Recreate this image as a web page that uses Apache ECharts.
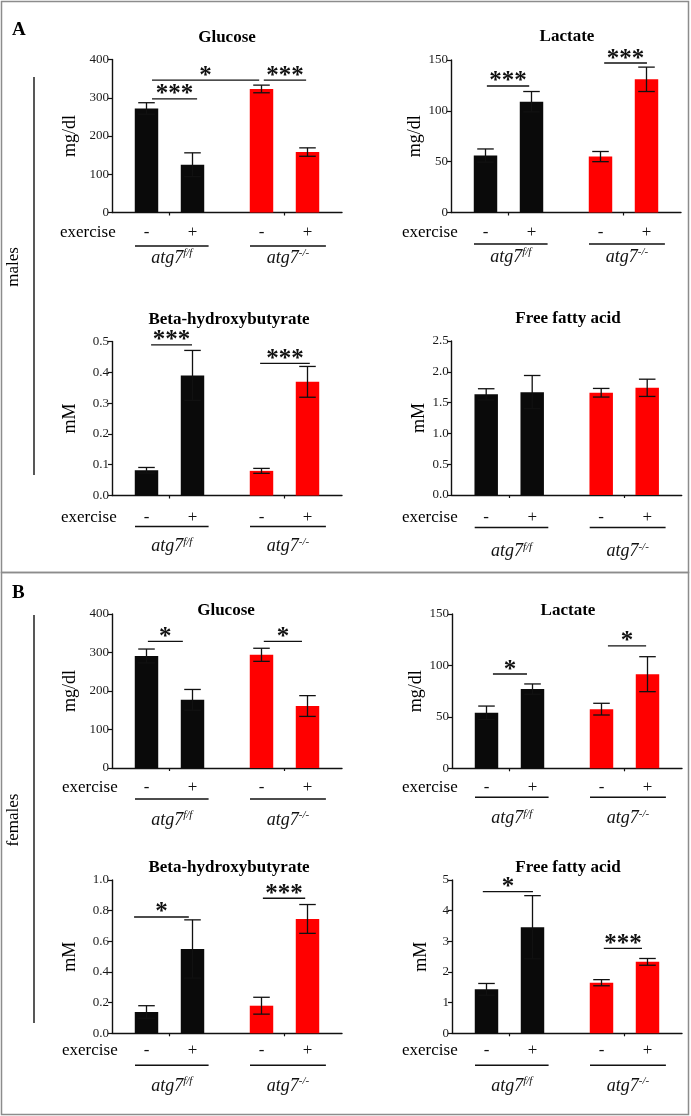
<!DOCTYPE html>
<html><head><meta charset="utf-8">
<script src="https://cdn.jsdelivr.net/npm/echarts@6/dist/echarts.min.js"></script>
<style>html,body{margin:0;padding:0;background:#fff}#c{width:691px;height:1116px}</style>
</head><body><div id="c"></div>
<script>
// ---------------- data ----------------
const barX = [0.75, 1.75, 3.25, 4.25];
const exerciseTicks = ['-', '+', '-', '+'];
const groupCenters = [1.25, 3.75];
const groupSpans = [[0.5, 2.1], [3.0, 4.65]];
const genotypeBase = 'atg7';
const genotypeSup = ['f/f', '-/-'];

const panelTitles = ['Glucose', 'Lactate', 'Beta-hydroxybutyrate', 'Free fatty acid',
                     'Glucose', 'Lactate', 'Beta-hydroxybutyrate', 'Free fatty acid'];
const panelUnits = ['mg/dl', 'mg/dl', 'mM', 'mM', 'mg/dl', 'mg/dl', 'mM', 'mM'];
const yMax = [400, 150, 0.5, 2.5, 400, 150, 1.0, 5];
const yStep = [100, 50, 0.1, 0.5, 100, 50, 0.2, 1];
const yDecimals = [0, 0, 1, 1, 0, 0, 1, 0];

// males (A)
const mGluMean = [272, 125, 323, 158];      const mGluErr = [15, 31, 10, 11];
const mLacMean = [56, 109, 55, 131];        const mLacErr = [6.5, 10, 5, 12];
const mBhbMean = [0.082, 0.39, 0.08, 0.369]; const mBhbErr = [0.009, 0.081, 0.008, 0.05];
const mFfaMean = [1.635, 1.67, 1.66, 1.74]; const mFfaErr = [0.09, 0.27, 0.07, 0.14];
// females (B)
const fGluMean = [291, 177, 294, 161];       const fGluErr = [18, 27, 17, 27];
const fLacMean = [54, 77, 57.5, 91.5];      const fLacErr = [6.5, 5, 5.7, 17];
const fBhbMean = [0.139, 0.55, 0.18, 0.746]; const fBhbErr = [0.041, 0.19, 0.055, 0.094];
const fFfaMean = [1.435, 3.46, 1.65, 2.33]; const fFfaErr = [0.19, 1.03, 0.1, 0.11];

// significance brackets [x1, x2, y]
const mGluSig = [[0.87, 1.85, 297], [0.87, 3.2, 346], [3.3, 4.22, 346]];
const mGluSigLabel = ['***', '*', '***'];
const mLacSig = [[0.78, 1.7, 124.4], [3.33, 4.26, 147]];
const mLacSigLabel = ['***', '***'];
const mBhbSig = [[0.85, 1.74, 0.489], [3.22, 4.3, 0.429]];
const mBhbSigLabel = ['***', '***'];
const mFfaSig = [];
const mFfaSigLabel = [];
const fGluSig = [[0.78, 1.54, 329], [3.3, 4.13, 329]];
const fGluSigLabel = ['*', '*'];
const fLacSig = [[0.89, 1.63, 91.6], [3.39, 4.22, 119]];
const fLacSigLabel = ['*', '*'];
const fBhbSig = [[0.48, 1.67, 0.759], [3.28, 4.2, 0.881]];
const fBhbSigLabel = ['*', '***'];
const fFfaSig = [[0.67, 1.76, 4.62], [3.3, 4.13, 2.77]];
const fFfaSigLabel = ['*', '***'];

const means = [mGluMean, mLacMean, mBhbMean, mFfaMean, fGluMean, fLacMean, fBhbMean, fFfaMean];
const errs = [mGluErr, mLacErr, mBhbErr, mFfaErr, fGluErr, fLacErr, fBhbErr, fFfaErr];
const sigs = [mGluSig, mLacSig, mBhbSig, mFfaSig, fGluSig, fLacSig, fBhbSig, fFfaSig];
const sigLabels = [mGluSigLabel, mLacSigLabel, mBhbSigLabel, mFfaSigLabel,
                   fGluSigLabel, fLacSigLabel, fBhbSigLabel, fFfaSigLabel];

// ---------------- layout ----------------
const SERIF = '"Liberation Serif", "Times New Roman", serif';
const layout = [
  {left:112,   top:59.5, h:153,   tx:227, ty:38,  gap:33, ex:[60,233],   lab:20.5, line:33.5, geno:45.5},
  {left:451,   top:60,   h:152.5, tx:567, ty:37,  gap:25, ex:[402,233],  lab:20.5, line:31.5, geno:44.5},
  {left:112,   top:341.5,h:154,   tx:229, ty:320, gap:33, ex:[61,518],   lab:22.5, line:31,   geno:51},
  {left:451.7, top:341,  h:154,   tx:568, ty:319, gap:22, ex:[402,518],  lab:23,   line:32.5, geno:56.5},
  {left:112,   top:614,  h:154,   tx:226, ty:611, gap:33, ex:[62,788],   lab:20,   line:31,   geno:52},
  {left:452,   top:614,  h:154.3, tx:568, ty:611, gap:26, ex:[402,788],  lab:19.5, line:29,   geno:50},
  {left:112,   top:880,  h:153.3, tx:229, ty:868, gap:33, ex:[62,1051],  lab:17.5, line:32,   geno:52.7},
  {left:452,   top:880,  h:153.3, tx:568, ty:868, gap:22, ex:[402,1051], lab:17.5, line:32,   geno:52.7}
];
const BAR_W = 0.51, CAP_W = 0.36;

const grid = [], xAxis = [], yAxis = [], series = [], graphic = [];

layout.forEach((L, i) => {
  grid.push({left: L.left, top: L.top, width: 230, height: L.h});
  xAxis.push({
    type: 'value', gridIndex: i, min: 0, max: 5,
    splitLine: {show: false},
    axisLine: {show: true, onZero: false, lineStyle: {color: '#111', width: 1.4}},
    axisTick: {show: true, customValues: groupCenters, length: 3, lineStyle: {color: '#111', width: 1.2}},
    axisLabel: {
      show: true, customValues: barX, margin: L.lab, verticalAlign: 'middle',
      fontFamily: SERIF, fontSize: 17, color: '#111',
      formatter: v => exerciseTicks[barX.indexOf(v)] || ''
    }
  });
  yAxis.push({
    type: 'value', gridIndex: i, min: 0, max: yMax[i], interval: yStep[i],
    name: panelUnits[i], nameLocation: 'middle', nameRotate: 90, nameGap: L.gap,
    nameTextStyle: {fontFamily: SERIF, fontSize: 18, color: '#000'},
    splitLine: {show: false},
    axisLine: {show: true, lineStyle: {color: '#111', width: 1.4}},
    axisTick: {show: true, inside: false, length: 4, lineStyle: {color: '#111', width: 1.2}},
    axisLabel: {
      margin: 3, fontFamily: SERIF, fontSize: 13, color: '#1a1a1a',
      formatter: v => (+v).toFixed(yDecimals[i])
    }
  });

  // bars
  series.push({
    type: 'custom', xAxisIndex: i, yAxisIndex: i, clip: false, z: 2,
    data: barX.map((x, k) => [x, means[i][k]]),
    renderItem: (params, api) => {
      const x = api.value(0), v = api.value(1);
      const p0 = api.coord([x - BAR_W / 2, v]);
      const p1 = api.coord([x + BAR_W / 2, 0]);
      return {type: 'rect',
        shape: {x: p0[0], y: p0[1], width: p1[0] - p0[0], height: p1[1] - p0[1]},
        style: {fill: params.dataIndex < 2 ? '#0a0a0a' : '#ff0000'}};
    }
  });
  // error bars
  series.push({
    type: 'custom', xAxisIndex: i, yAxisIndex: i, clip: false, z: 3,
    data: barX.map((x, k) => [x, means[i][k], errs[i][k]]),
    renderItem: (params, api) => {
      const x = api.value(0), m = api.value(1), e = api.value(2);
      const top = api.coord([x, m + e]);
      const bot = api.coord([x, m - e]);
      const cl = api.coord([x - CAP_W / 2, m])[0];
      const cr = api.coord([x + CAP_W / 2, m])[0];
      const st = {stroke: '#111', lineWidth: 1.3};
      return {type: 'group', children: [
        {type: 'line', shape: {x1: top[0], y1: top[1], x2: bot[0], y2: bot[1]}, style: st},
        {type: 'line', shape: {x1: cl, y1: top[1], x2: cr, y2: top[1]}, style: st},
        {type: 'line', shape: {x1: cl, y1: bot[1], x2: cr, y2: bot[1]}, style: st}
      ]};
    }
  });
  // significance brackets
  if (sigs[i].length) {
    series.push({
      type: 'custom', xAxisIndex: i, yAxisIndex: i, clip: false, z: 4,
      data: sigs[i],
      renderItem: (params, api) => {
        const a = api.coord([api.value(0), api.value(2)]);
        const b = api.coord([api.value(1), api.value(2)]);
        return {type: 'group', children: [
          {type: 'line', shape: {x1: a[0], y1: a[1], x2: b[0], y2: a[1]}, style: {stroke: '#111', lineWidth: 1.4}},
          {type: 'text', x: (a[0] + b[0]) / 2, y: a[1] - 4,
           style: {text: sigLabels[i][params.dataIndex], font: 'bold 25px ' + SERIF, fill: '#111',
                   align: 'center', verticalAlign: 'middle', textAlign: 'center', textVerticalAlign: 'middle'}}
        ]};
      }
    });
  }
  // genotype group lines + labels
  series.push({
    type: 'custom', xAxisIndex: i, yAxisIndex: i, clip: false, z: 4,
    data: groupSpans.map(s => [s[0], s[1]]),
    renderItem: (params, api) => {
      const a = api.coord([api.value(0), 0]);
      const b = api.coord([api.value(1), 0]);
      const g = params.dataIndex;
      return {type: 'group', children: [
        {type: 'line', shape: {x1: a[0], y1: a[1] + L.line, x2: b[0], y2: a[1] + L.line},
         style: {stroke: '#111', lineWidth: 1.4}},
        {type: 'text', x: (a[0] + b[0]) / 2, y: a[1] + L.geno,
         style: {text: '{a|' + genotypeBase + '}{s|' + genotypeSup[g] + '}',
                 align: 'center', verticalAlign: 'middle', textAlign: 'center', textVerticalAlign: 'middle',
                 rich: {
                   a: {fontFamily: SERIF, fontStyle: 'italic', fontSize: 18, lineHeight: 20, fill: '#111'},
                   s: {fontFamily: SERIF, fontStyle: 'italic', fontSize: 11, lineHeight: 11, fill: '#111', verticalAlign: 'top'}
                 }}}
      ]};
    }
  });

  // titles & "exercise"
  graphic.push({type: 'text', x: L.tx, y: L.ty, silent: true,
    style: {text: panelTitles[i], font: 'bold 17px ' + SERIF, fill: '#000',
            align: 'center', verticalAlign: 'middle', textAlign: 'center', textVerticalAlign: 'middle'}});
  graphic.push({type: 'text', x: L.ex[0], y: L.ex[1], silent: true,
    style: {text: 'exercise', font: '17px ' + SERIF, fill: '#000',
            align: 'left', verticalAlign: 'middle', textAlign: 'left', textVerticalAlign: 'middle'}});
});

// frames, panel letters, sex labels
graphic.push(
  {type: 'rect', shape: {x: 1.5, y: 1.5, width: 687, height: 571}, style: {fill: 'none', stroke: '#8c8c8c', lineWidth: 1.5}, silent: true},
  {type: 'rect', shape: {x: 1.5, y: 572.5, width: 687, height: 542}, style: {fill: 'none', stroke: '#8c8c8c', lineWidth: 1.5}, silent: true},
  {type: 'text', x: 12, y: 30, style: {text: 'A', font: 'bold 19px ' + SERIF, fill: '#000', align: 'left', verticalAlign: 'middle', textAlign: 'left', textVerticalAlign: 'middle'}},
  {type: 'text', x: 12, y: 593, style: {text: 'B', font: 'bold 19px ' + SERIF, fill: '#000', align: 'left', verticalAlign: 'middle', textAlign: 'left', textVerticalAlign: 'middle'}},
  {type: 'line', shape: {x1: 34, y1: 77, x2: 34, y2: 475}, style: {stroke: '#111', lineWidth: 1.4}},
  {type: 'line', shape: {x1: 34, y1: 615, x2: 34, y2: 1023}, style: {stroke: '#111', lineWidth: 1.4}},
  {type: 'text', x: 14, y: 267, rotation: Math.PI / 2,
   style: {text: 'males', font: '17px ' + SERIF, fill: '#000', align: 'center', verticalAlign: 'middle', textAlign: 'center', textVerticalAlign: 'middle'}},
  {type: 'text', x: 14, y: 820, rotation: Math.PI / 2,
   style: {text: 'females', font: '17px ' + SERIF, fill: '#000', align: 'center', verticalAlign: 'middle', textAlign: 'center', textVerticalAlign: 'middle'}}
);

const chart = echarts.init(document.getElementById('c'), null, {renderer: 'canvas', width: 691, height: 1116});
chart.setOption({
  backgroundColor: '#ffffff',
  animation: false,
  grid, xAxis, yAxis, series, graphic
});
</script>
</body></html>
